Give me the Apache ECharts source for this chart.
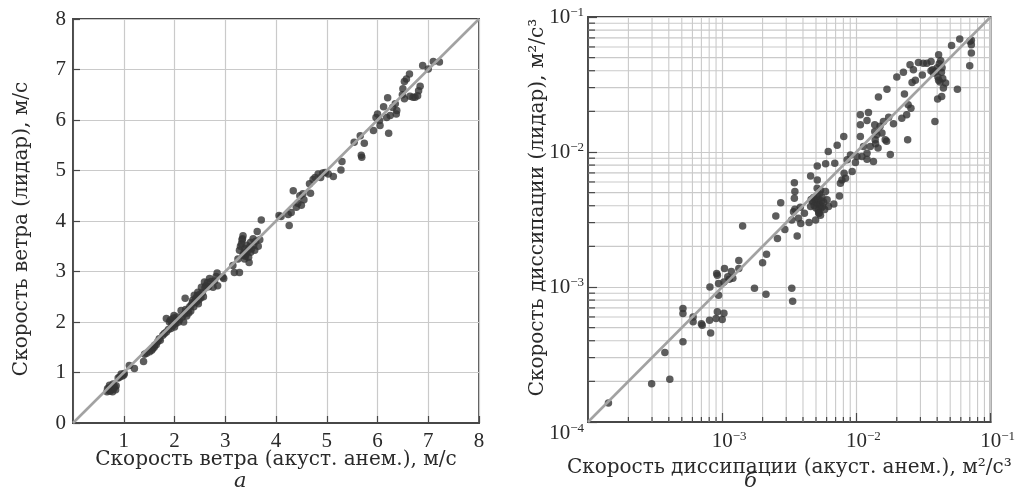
<!DOCTYPE html>
<html>
<head>
<meta charset="utf-8">
<script src="https://cdn.jsdelivr.net/npm/echarts@6/dist/echarts.min.js"></script>
<style>
  html, body { margin: 0; padding: 0; background: #fff; }
  #chart { width: 1018px; height: 493px; }
</style>
</head>
<body>
<div id="chart"></div>
<script>
// Panel (а): wind speed, acoustic anemometer vs lidar, m/s
const windAnem = [
  0.67,0.68,0.70,0.71,0.72,0.73,0.75,0.76,0.78,0.79,0.80,0.82,0.84,0.85,0.89,0.92,0.95,0.97,1.00,1.01,
  1.11,1.21,1.39,1.41,1.45,1.51,1.55,1.57,1.60,1.61,1.64,1.67,1.70,1.72,1.77,1.80,1.84,1.84,1.88,1.90,
  1.93,1.95,1.97,1.98,1.99,2.00,2.02,2.03,2.05,2.08,1.92,2.10,2.13,2.15,2.18,2.20,2.21,2.22,2.24,2.26,
  2.28,2.30,2.32,2.33,2.35,2.36,2.38,2.39,2.40,2.42,2.43,2.45,2.46,2.47,2.48,2.50,2.52,2.53,2.55,2.57,
  2.59,2.60,2.62,2.65,2.67,2.69,2.72,2.76,2.79,2.82,2.84,2.85,2.95,2.97,3.15,3.18,3.25,3.28,3.28,3.30,
  3.32,3.33,3.34,3.35,3.35,3.37,3.38,3.39,3.40,3.41,3.42,3.44,3.46,3.47,3.48,3.50,3.50,3.52,3.55,3.56,
  3.58,3.60,3.63,3.65,3.68,3.71,4.06,4.10,4.24,4.26,4.30,4.34,4.40,4.43,4.47,4.50,4.53,4.55,4.66,4.68,
  4.73,4.77,4.83,4.88,4.92,4.97,5.03,5.13,5.28,5.30,5.54,5.66,5.68,5.69,5.74,5.92,5.97,6.00,6.04,6.05,
  6.12,6.18,6.20,6.22,6.25,6.30,6.35,6.37,6.38,6.49,6.50,6.53,6.53,6.57,6.63,6.64,6.70,6.74,6.79,6.81,
  6.84,6.89,7.00,7.10,7.22
];
const windLidar = [
  0.62,0.68,0.65,0.70,0.75,0.63,0.66,0.72,0.62,0.77,0.68,0.72,0.66,0.74,0.89,0.91,0.97,0.93,0.95,0.98,
  1.14,1.08,1.22,1.36,1.38,1.41,1.44,1.47,1.50,1.54,1.55,1.61,1.67,1.64,1.74,1.77,1.80,2.07,1.85,2.00,
  1.87,1.97,1.93,2.08,2.13,1.90,2.03,1.97,2.10,2.00,2.04,2.05,2.23,2.10,2.00,2.16,2.47,2.25,2.12,2.23,
  2.18,2.30,2.22,2.33,2.38,2.43,2.30,2.53,2.40,2.47,2.39,2.52,2.59,2.36,2.44,2.55,2.48,2.69,2.58,2.50,
  2.79,2.68,2.72,2.78,2.70,2.86,2.80,2.69,2.81,2.90,2.97,2.72,2.89,2.86,3.12,2.98,3.25,2.98,3.42,3.50,
  3.55,3.63,3.65,3.71,3.32,3.38,3.25,3.45,3.30,3.35,3.52,3.40,3.28,3.18,3.48,3.58,3.38,3.45,3.65,3.52,
  3.42,3.60,3.79,3.50,3.63,4.02,4.11,4.09,4.13,3.91,4.17,4.60,4.27,4.35,4.50,4.31,4.54,4.42,4.74,4.55,
  4.82,4.86,4.93,4.86,4.95,4.96,4.93,4.88,5.01,5.18,5.56,5.69,5.30,5.26,5.54,5.79,6.05,6.12,5.99,5.89,
  6.26,6.05,6.44,5.74,6.09,6.25,6.32,6.12,6.19,6.50,6.62,6.42,6.76,6.81,6.91,6.47,6.45,6.45,6.48,6.58,
  6.67,7.08,7.01,7.16,7.15
];
const windTicks = [0, 1, 2, 3, 4, 5, 6, 7, 8];

// Panel (б): dissipation rate, acoustic anemometer vs lidar, m^2/s^3
const dissAnem = [
  1.42e-4,2.98e-4,3.74e-4,4.07e-4,5.1e-4,5.1e-4,5.1e-4,6.07e-4,6.07e-4,7.1e-4,7.0e-4,8.05e-4,8.2e-4,8.1e-4,
  9.0e-4,9.2e-4,9.4e-4,9.4e-4,9.1e-4,9.2e-4,1.0e-3,1.03e-3,1.04e-3,1.03e-3,1.1e-3,1.13e-3,1.17e-3,1.2e-3,
  1.33e-3,1.33e-3,1.42e-3,1.74e-3,2.0e-3,2.14e-3,2.12e-3,2.51e-3,2.58e-3,2.73e-3,2.93e-3,3.3e-3,3.35e-3,
  3.3e-3,3.4e-3,3.45e-3,3.48e-3,3.45e-3,3.48e-3,3.62e-3,3.7e-3,3.85e-3,3.82e-3,4.1e-3,4.44e-3,4.56e-3,
  4.56e-3,4.97e-3,5.11e-3,5.11e-3,5.26e-3,5.4e-3,5.89e-3,5.9e-3,6.05e-3,6.17e-3,6.2e-3,6.79e-3,6.9e-3,
  7.19e-3,7.48e-3,7.6e-3,7.8e-3,8.05e-3,8.1e-3,8.3e-3,8.53e-3,9.03e-3,9.3e-3,9.84e-3,1.01e-2,1.07e-2,
  1.07e-2,1.07e-2,1.1e-2,1.13e-2,1.2e-2,1.2e-2,1.23e-2,1.2e-2,1.27e-2,1.34e-2,1.37e-2,1.37e-2,1.38e-2,
  1.39e-2,1.42e-2,1.45e-2,1.46e-2,1.5e-2,1.55e-2,1.59e-2,1.64e-2,1.68e-2,1.69e-2,1.74e-2,1.79e-2,1.89e-2,
  2.0e-2,2.18e-2,2.24e-2,2.28e-2,2.37e-2,2.41e-2,2.43e-2,2.51e-2,2.55e-2,2.6e-2,2.66e-2,2.75e-2,2.9e-2,
  3.1e-2,3.15e-2,3.35e-2,3.6e-2,3.7e-2,3.85e-2,4.03e-2,4.1e-2,3.6e-2,3.75e-2,3.9e-2,4.0e-2,4.05e-2,4.1e-2,
  4.2e-2,4.3e-2,4.15e-2,4.25e-2,4.35e-2,4.4e-2,4.32e-2,4.45e-2,4.62e-2,5.12e-2,5.66e-2,5.89e-2,6.99e-2,
  7.19e-2,7.19e-2,7.19e-2,7.0e-2,
  4.7e-3,4.8e-3,4.85e-3,4.9e-3,5.0e-3,5.05e-3,5.1e-3,5.15e-3,5.2e-3,5.25e-3,5.3e-3,5.35e-3,5.4e-3,5.45e-3,
  5.5e-3,5.55e-3,5.6e-3,5.7e-3,5.8e-3,5.1e-3,5.25e-3,4.6e-3
];
const dissLidar = [
  1.38e-4,1.92e-4,3.27e-4,2.07e-4,3.93e-4,6.93e-4,6.37e-4,6.0e-4,5.52e-4,5.21e-4,5.35e-4,5.67e-4,4.57e-4,1.0e-3,
  5.85e-4,6.55e-4,8.7e-4,1.06e-3,1.26e-3,1.22e-3,5.75e-4,6.4e-4,1.37e-3,1.09e-3,1.19e-3,1.14e-3,1.3e-3,1.16e-3,
  1.37e-3,1.57e-3,2.83e-3,9.8e-4,1.51e-3,1.75e-3,8.85e-4,3.36e-3,2.29e-3,4.21e-3,2.67e-3,9.8e-4,7.85e-4,
  3.13e-3,3.61e-3,5.93e-3,5.09e-3,4.54e-3,3.77e-3,2.39e-3,3.23e-3,2.96e-3,3.89e-3,3.52e-3,3.0e-3,6.65e-3,
  3.94e-3,3.13e-3,6.2e-3,7.89e-3,3.52e-3,3.4e-3,5.09e-3,8.17e-3,4.42e-3,1.01e-2,3.94e-3,4.12e-3,8.25e-3,
  1.12e-2,4.73e-3,5.86e-3,6.2e-3,1.3e-2,6.96e-3,6.4e-3,8.75e-3,9.5e-3,7.16e-3,8.35e-3,9.25e-3,1.89e-2,
  1.59e-2,1.3e-2,9.25e-3,1.1e-2,8.85e-3,9.8e-3,1.96e-2,1.71e-2,1.1e-2,8.5e-3,1.59e-2,1.42e-2,1.23e-2,
  1.15e-2,1.34e-2,1.07e-2,2.55e-2,1.55e-2,1.38e-2,1.68e-2,1.23e-2,1.2e-2,2.92e-2,1.81e-2,9.6e-3,1.62e-2,
  3.59e-2,1.78e-2,3.89e-2,2.69e-2,1.89e-2,1.23e-2,2.24e-2,4.43e-2,2.11e-2,3.27e-2,4.06e-2,3.4e-2,4.61e-2,
  3.72e-2,4.55e-2,4.55e-2,4.68e-2,4.06e-2,1.68e-2,2.47e-2,5.26e-2,4.0e-2,3.85e-2,3.95e-2,4.2e-2,3.6e-2,3.4e-2,
  3.3e-2,3.9e-2,4.5e-2,4.75e-2,4.2e-2,3.5e-2,2.58e-2,2.98e-2,3.25e-2,6.14e-2,2.92e-2,6.88e-2,4.36e-2,
  5.41e-2,6.24e-2,6.72e-2,6.6e-2,
  4.3e-3,4.6e-3,4.0e-3,4.45e-3,3.85e-3,4.25e-3,4.7e-3,4.1e-3,3.7e-3,4.4e-3,4.9e-3,4.05e-3,5.2e-3,3.85e-3,
  4.35e-3,4.6e-3,3.95e-3,4.25e-3,3.75e-3,5.4e-3,3.55e-3,4.45e-3
];
const dissRange = [1e-4, 1e-1];
const dissMinor = [2, 3, 4, 5, 6, 7, 8, 9];

const SERIF = 'DejaVu Serif';
const DIGITS = 'Liberation Serif';
const INK = '#2a2a2a';
const FRAME = '#474747';
const GRID = '#cacaca';
const DOT = '#353535';
const DIAG = '#a2a2a2';

const pairs = (xs, ys) => xs.map((x, i) => [x, ys[i]]);

// minor decade positions (2..9 x 10^k) for the log panel
const minorVals = [];
for (let e = -4; e < -1; e++) dissMinor.forEach(m => minorVals.push(m * Math.pow(10, e)));

const supRich = (padLeft) => ({
  b: { fontFamily: DIGITS, fontSize: 21, color: INK, lineHeight: 22, padding: [0, 0, 0, padLeft] },
  s: { fontFamily: DIGITS, fontSize: 13, color: INK, verticalAlign: 'top', lineHeight: 13, padding: [0, 0, 6, 0] }
});
const powLabel = v => '{b|10}{s|−' + (-Math.round(Math.log10(v))) + '}';

const axisLineStyle = { show: true, lineStyle: { color: FRAME, width: 1.8 } };
const nameStyle = { fontFamily: SERIF, fontSize: 20, color: INK };

const chart = echarts.init(document.getElementById('chart'), null, { renderer: 'canvas' });
chart.setOption({
  animation: false,
  backgroundColor: '#fff',
  grid: [
    { left: 73, top: 19, width: 406, height: 404, show: true, borderColor: FRAME, borderWidth: 1.8, backgroundColor: 'transparent' },
    { left: 588, top: 17, width: 405, height: 405, show: true, borderColor: FRAME, borderWidth: 1.8, backgroundColor: 'transparent' }
  ],
  xAxis: [
    {
      gridIndex: 0, type: 'value', min: windTicks[0], max: windTicks[windTicks.length - 1], interval: 1,
      axisLine: axisLineStyle,
      axisTick: { inside: true, length: 7, lineStyle: { color: FRAME, width: 1.2 } },
      splitLine: { lineStyle: { color: GRID, width: 1.2 } },
      axisLabel: { showMinLabel: false, fontFamily: DIGITS, fontSize: 21, color: INK, margin: 8 },
      name: 'Скорость ветра (акуст. анем.), м/с', nameLocation: 'middle', nameGap: 27,
      nameMoveOverlap: false, nameTextStyle: nameStyle
    },
    {
      gridIndex: 1, type: 'log', logBase: 10, min: dissRange[0], max: dissRange[1],
      axisLine: axisLineStyle,
      axisTick: { inside: true, length: 9, lineStyle: { color: FRAME, width: 1.2 } },
      splitLine: { lineStyle: { color: GRID, width: 1.2 } },
      axisLabel: { showMinLabel: false, margin: 8, formatter: powLabel, rich: supRich(14) },
      name: 'Скорость диссипации (акуст. анем.), м²/с³', nameLocation: 'middle', nameGap: 36,
      nameMoveOverlap: false, nameTextStyle: nameStyle
    }
  ],
  yAxis: [
    {
      gridIndex: 0, type: 'value', min: windTicks[0], max: windTicks[windTicks.length - 1], interval: 1,
      axisLine: axisLineStyle,
      axisTick: { inside: true, length: 7, lineStyle: { color: FRAME, width: 1.2 } },
      splitLine: { lineStyle: { color: GRID, width: 1.2 } },
      axisLabel: { fontFamily: DIGITS, fontSize: 21, color: INK, margin: 7 },
      name: 'Скорость ветра (лидар), м/с', nameLocation: 'middle', nameGap: 41,
      nameMoveOverlap: false,
      nameTextStyle: Object.assign({ padding: [0, 16, 0, 0] }, nameStyle)
    },
    {
      gridIndex: 1, type: 'log', logBase: 10, min: dissRange[0], max: dissRange[1],
      axisLine: axisLineStyle,
      axisTick: { inside: true, length: 9, lineStyle: { color: FRAME, width: 1.2 } },
      splitLine: { lineStyle: { color: GRID, width: 1.2 } },
      axisLabel: { margin: 4, formatter: powLabel, rich: supRich(0), verticalAlignMinLabel: 'top' },
      name: 'Скорость диссипации (лидар), м²/с³', nameLocation: 'middle', nameGap: 40,
      nameMoveOverlap: false,
      nameTextStyle: Object.assign({ padding: [0, 0, 0, 24] }, nameStyle)
    }
  ],
  graphic: [
    { type: 'text', left: 234, top: 471, style: { text: 'а', font: 'italic 21px "DejaVu Serif"', fill: INK } },
    { type: 'text', left: 744, top: 471, style: { text: 'б', font: 'italic 21px "DejaVu Serif"', fill: INK } }
  ],
  series: [
    {
      // minor grid lines and inward minor ticks of the log panel
      type: 'custom', xAxisIndex: 1, yAxisIndex: 1, silent: true, clip: false,
      data: minorVals.map(v => [v, v]),
      renderItem: (params, api) => {
        const cs = params.coordSys;
        const px = api.coord([api.value(0), dissRange[0]])[0];
        const py = api.coord([dissRange[0], api.value(1)])[1];
        const gl = { stroke: GRID, lineWidth: 1.1 };
        const tk = { stroke: FRAME, lineWidth: 1.2 };
        return {
          type: 'group',
          children: [
            { type: 'line', shape: { x1: px, y1: cs.y, x2: px, y2: cs.y + cs.height }, style: gl },
            { type: 'line', shape: { x1: cs.x, y1: py, x2: cs.x + cs.width, y2: py }, style: gl },
            { type: 'line', shape: { x1: px, y1: cs.y + cs.height, x2: px, y2: cs.y + cs.height - 5 }, style: tk },
            { type: 'line', shape: { x1: cs.x, y1: py, x2: cs.x + 7, y2: py }, style: tk }
          ]
        };
      }
    },
    {
      type: 'line', xAxisIndex: 0, yAxisIndex: 0, silent: true, symbol: 'none',
      data: [[windTicks[0], windTicks[0]], [windTicks[8], windTicks[8]]],
      lineStyle: { color: DIAG, width: 2.6 }
    },
    {
      type: 'line', xAxisIndex: 1, yAxisIndex: 1, silent: true, symbol: 'none',
      data: [[dissRange[0], dissRange[0]], [dissRange[1], dissRange[1]]],
      lineStyle: { color: DIAG, width: 2.6 }
    },
    {
      type: 'scatter', xAxisIndex: 0, yAxisIndex: 0, symbolSize: 7.5,
      itemStyle: { color: DOT },
      data: pairs(windAnem, windLidar)
    },
    {
      type: 'scatter', xAxisIndex: 1, yAxisIndex: 1, symbolSize: 7.5,
      itemStyle: { color: DOT },
      data: pairs(dissAnem, dissLidar)
    }
  ]
});
</script>
</body>
</html>
